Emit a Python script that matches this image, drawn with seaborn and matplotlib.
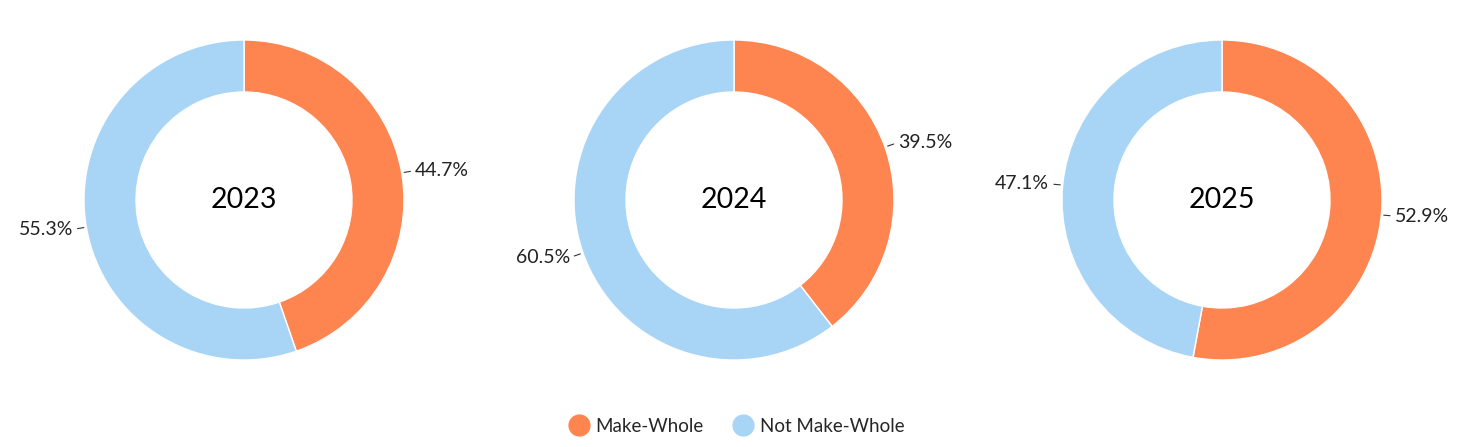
import numpy as np
import matplotlib
matplotlib.use("Agg")
import matplotlib.pyplot as plt
from matplotlib.lines import Line2D
import seaborn as sns

years = ["2023", "2024", "2025"]
categories = ["Make-Whole", "Not Make-Whole"]
make_whole = [44.7, 39.5, 52.9]
not_make_whole = [55.3, 60.5, 47.1]
colors = ["#FF8550", "#A8D5F5"]

sns.set_theme(style="white")
plt.rcParams["font.family"] = ["Lato", "DejaVu Sans"]

W, H = 1472, 447
fig = plt.figure(figsize=(W / 100, H / 100), dpi=100)
centers_x = [244, 734, 1222]
cy = 200
half = 200  # pixels for 1.25 data units -> radius 1 = 160 px
lim = 1.25

for i, yr in enumerate(years):
    cx = centers_x[i]
    ax = fig.add_axes([(cx - half) / W, (H - cy - half) / H, 2 * half / W, 2 * half / H])
    vals = [make_whole[i], not_make_whole[i]]
    wedges, _ = ax.pie(vals, colors=colors, startangle=90, counterclock=False,
                       radius=1.0,
                       wedgeprops=dict(width=0.325, edgecolor="white", linewidth=1))
    for w, v in zip(wedges, vals):
        ang = np.deg2rad((w.theta1 + w.theta2) / 2)
        c, s = np.cos(ang), np.sin(ang)
        ax.plot([1.015 * c, 1.055 * c], [1.04 * s, 1.08 * s], color="#333333", lw=0.8)
        ha = "left" if c >= 0 else "right"
        ax.text(1.085 * c, 1.1 * s, f"{v:.1f}%", ha=ha, va="center",
                fontsize=14, color="#222222")
    ax.text(0, 0, yr, ha="center", va="center", fontsize=20.5, color="black")
    ax.set_xlim(-lim, lim)
    ax.set_ylim(-lim, lim)
    ax.set_aspect("equal")
    ax.axis("off")

handles = [Line2D([0], [0], marker="o", color="none", markerfacecolor=c,
                  markeredgecolor=c, markersize=15) for c in colors]
fig.legend(handles, categories, loc="lower center", ncol=2, frameon=False,
           fontsize=13.5, bbox_to_anchor=(0.5, -0.01), handletextpad=0.3,
           columnspacing=1.5, handlelength=1.2)

fig.savefig("out.png", dpi=100, facecolor="white")
